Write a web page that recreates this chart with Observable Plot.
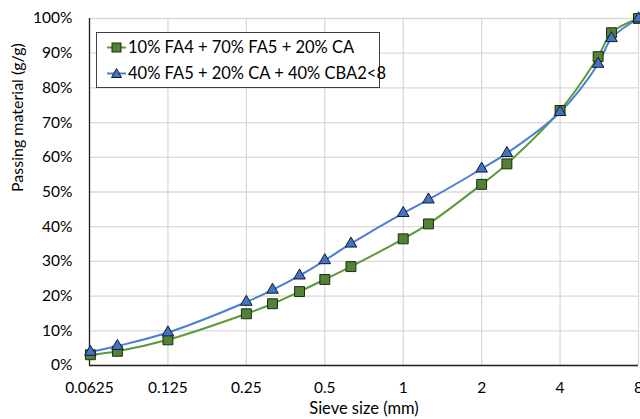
<!DOCTYPE html>
<html>
<head>
<meta charset="utf-8">
<script src="https://cdn.jsdelivr.net/npm/d3@7"></script>
<script src="https://cdn.jsdelivr.net/npm/@observablehq/plot@0.6"></script>
<style>
  body { margin: 0; background: #fff; }
  #chart { position: relative; width: 640px; height: 419px; font-family: Lato, "Open Sans", sans-serif; }
  #legend {
    position: absolute; left: 96px; top: 32px; width: 284px; height: 56px;
    border: 1px solid #404040; background: #fff; box-sizing: border-box;
    font-size: 16.5px; color: #000;
  }
  .item { position: absolute; left: 10px; display: flex; align-items: center; white-space: nowrap; }
  .item svg { margin-right: 2px; }
</style>
</head>
<body>
<div id="chart"></div>
<script>
// Sieve sizes (mm)
const sieves = [0.063, 0.08, 0.125, 0.25, 0.315, 0.4, 0.5, 0.63, 1, 1.25, 2, 2.5, 4, 5.6, 6.3, 8];
// Cumulative passing (%) for each blend
const mixA = [3.1, 4.1, 7.4, 14.9, 17.8, 21.3, 24.8, 28.5, 36.5, 40.8, 52.2, 58.1, 73.5, 89.0, 95.9, 100];
const mixB = [3.9, 5.6, 9.5, 18.3, 21.8, 25.9, 30.3, 35.1, 43.9, 47.8, 56.7, 61.2, 73.0, 86.9, 94.3, 100];
const seriesNames = ["10% FA4 + 70% FA5 + 20% CA", "40% FA5 + 20% CA + 40% CBA2<8"];
const xTicks = [0.0625, 0.125, 0.25, 0.5, 1, 2, 4, 8];
const yTicks = [0, 10, 20, 30, 40, 50, 60, 70, 80, 90, 100];

const green = "#5a9a3a", greenFill = "#538135";
const blue = "#4a7fd4", blueFill = "#4472c4";

const rowsA = sieves.map((s, i) => ({size: s, pass: mixA[i]}));
const rowsB = sieves.map((s, i) => ({size: s, pass: mixB[i]}));

const font = "Lato, 'Open Sans', sans-serif";

const plot = Plot.plot({
  width: 640,
  height: 419,
  marginLeft: 89,
  marginRight: 2,
  marginTop: 18,
  marginBottom: 54,
  style: {fontFamily: font, fontSize: "15.5px", color: "#000", background: "#fff", overflow: "visible"},
  x: {type: "log", base: 2, domain: [0.0625, 8], ticks: xTicks, tickFormat: d => String(d), tickSize: 0, tickPadding: 16, label: null},
  y: {domain: [0, 100], ticks: yTicks, tickFormat: d => d + "%", tickSize: 0, tickPadding: 17, label: null},
  marks: [
    Plot.gridX(xTicks, {stroke: "#d9d9d9", strokeOpacity: 1, strokeWidth: 1.3}),
    Plot.gridY(yTicks, {stroke: "#d9d9d9", strokeOpacity: 1, strokeWidth: 1.3}),
    Plot.ruleX([0.0625], {stroke: "#222", strokeWidth: 1.3}),
    Plot.ruleY([0], {stroke: "#222", strokeWidth: 1.3}),
    Plot.axisX({ticks: xTicks, tickFormat: d => String(d), tickSize: 0, tickPadding: 16, label: null}),
    Plot.axisY({ticks: yTicks, tickFormat: d => d + "%", tickSize: 0, tickPadding: 17, label: null}),
    Plot.line(rowsA, {x: "size", y: "pass", stroke: green, strokeWidth: 2, curve: "catmull-rom"}),
    Plot.line(rowsB, {x: "size", y: "pass", stroke: blue, strokeWidth: 2, curve: "catmull-rom"}),
    Plot.dot(rowsA, {x: "size", y: "pass", symbol: "square", r: 5.6, fill: greenFill, stroke: "#1e2e12", strokeWidth: 1}),
    Plot.dot(rowsB, {x: "size", y: "pass", symbol: "triangle", r: 4.3, fill: blueFill, stroke: "#101c33", strokeWidth: 1}),
    Plot.text(["Passing material (g/g)"], {frameAnchor: "left", dx: -72, rotate: -90, fontSize: 16}),
    Plot.text(["Sieve size (mm)"], {frameAnchor: "bottom", dy: 48, fontSize: 16.5})
  ]
});

const chart = document.getElementById("chart");
chart.appendChild(plot);

// Legend box drawn inside the plot area
const legend = document.createElement("div");
legend.id = "legend";
const swatch = (stroke, fill, shape) => {
  const mark = shape === "square"
    ? `<rect x="5" y="3" width="9" height="9" fill="${fill}" stroke="#1e2e12" stroke-width="1"/>`
    : `<path d="M9.5,2.5 L14.5,11.5 L4.5,11.5 Z" fill="${fill}" stroke="#101c33" stroke-width="1"/>`;
  return `<svg width="19" height="15"><line x1="0" x2="19" y1="7.5" y2="7.5" stroke="${stroke}" stroke-width="2"/>${mark}</svg>`;
};
legend.innerHTML =
  `<div class="item" style="top:4px">${swatch(green, greenFill, "square")}<span>${seriesNames[0]}</span></div>` +
  `<div class="item" style="top:30px">${swatch(blue, blueFill, "triangle")}<span>${seriesNames[1].replace("<", "&lt;")}</span></div>`;
chart.appendChild(legend);
</script>
</body>
</html>
